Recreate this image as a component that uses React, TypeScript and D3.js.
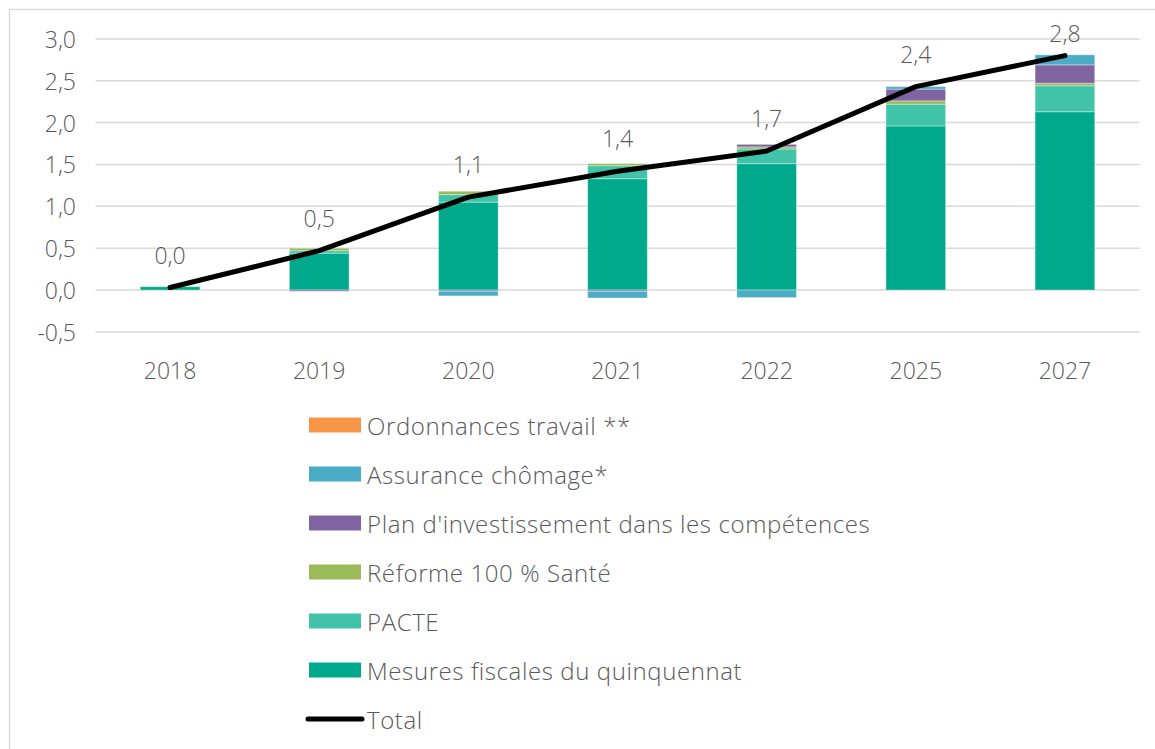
import React from "react";
import * as d3 from "d3";

const years = ["2018", "2019", "2020", "2021", "2022", "2025", "2027"];
const mesuresFiscales = [0.04, 0.44, 1.05, 1.33, 1.51, 1.96, 2.13];
const pacte = [0.0, 0.03, 0.09, 0.155, 0.175, 0.26, 0.31];
const sante = [0.0, 0.03, 0.04, 0.025, 0.025, 0.04, 0.03];
const planInvest = [0.0, -0.015, -0.015, -0.015, 0.03, 0.14, 0.22];
const assuranceChomage = [0.0, 0.0, -0.055, -0.08, -0.09, 0.03, 0.12];
const ordonnances = [0, 0, 0, 0, 0, 0, 0];
const total = [0.03, 0.47, 1.11, 1.42, 1.66, 2.43, 2.8];
const yTicks = [-0.5, 0, 0.5, 1, 1.5, 2, 2.5, 3];

const seriesDefs = [
  { key: "mesures", label: "Mesures fiscales du quinquennat", values: mesuresFiscales, color: "#00A98B" },
  { key: "pacte", label: "PACTE", values: pacte, color: "#41C3A9" },
  { key: "sante", label: "Réforme 100 % Santé", values: sante, color: "#9BBB59" },
  { key: "plan", label: "Plan d'investissement dans les compétences", values: planInvest, color: "#8064A2" },
  { key: "assurance", label: "Assurance chômage*", values: assuranceChomage, color: "#4BACC6" },
  { key: "ordo", label: "Ordonnances travail **", values: ordonnances, color: "#F79646" },
];

const FONT = "'Open Sans', Lato, sans-serif";
const TEXT = "#595959";
const FS = 23;
const LFS = 24;

export default function App() {
  const x = d3.scaleBand<string>().domain(years).range([95.5, 1139.5]).paddingInner(0.6).paddingOuter(0.3);
  const y = d3.scaleLinear().domain([-0.5, 3]).range([331.9, 38.9]);

  const rows = years.map((yr, i) => {
    const r: any = { year: yr };
    seriesDefs.forEach((s) => (r[s.key] = s.values[i]));
    return r;
  });
  const stack = d3
    .stack<any>()
    .keys(seriesDefs.map((s) => s.key))
    .offset(d3.stackOffsetDiverging);
  const stacked = stack(rows);

  const line = d3
    .line<number>()
    .x((_, i) => (x(years[i]) as number) + x.bandwidth() / 2)
    .y((d) => y(d));

  const fmt = (v: number) => v.toFixed(1).replace(".", ",");
  const legendItems = [...seriesDefs].reverse();

  return (
    <svg width={1155} height={749} style={{ position: "absolute", left: 0, top: 0 }} fontFamily={FONT} fontWeight={300}>
      <rect x={0} y={0} width={1155} height={749} fill="#fff" />
      <rect x={9.5} y={9.5} width={1160} height={760} fill="none" stroke="#d9d9d9" strokeWidth={1.5} />
      {yTicks.map((t) => (
        <g key={t}>
          <line x1={95.5} x2={1139.5} y1={y(t)} y2={y(t)} stroke="#d9d9d9" strokeWidth={1.5} />
          <text x={76} y={y(t)} textAnchor="end" dominantBaseline="central" fontSize={FS} fill={TEXT}>
            {fmt(t)}
          </text>
        </g>
      ))}
      {years.map((yr) => (
        <text
          key={yr}
          x={(x(yr) as number) + x.bandwidth() / 2}
          y={370}
          textAnchor="middle"
          dominantBaseline="central"
          fontSize={FS}
          fill={TEXT}
        >
          {yr}
        </text>
      ))}
      {stacked.map((layer, li) => (
        <g key={layer.key} fill={seriesDefs[li].color}>
          {layer.map((d, i) =>
            Math.abs(d[1] - d[0]) > 1e-9 ? (
              <rect
                key={i}
                x={x(years[i])}
                width={x.bandwidth()}
                y={y(Math.max(d[0], d[1]))}
                height={Math.abs(y(d[0]) - y(d[1]))}
                stroke="#ffffff"
                strokeOpacity={0.35}
                strokeWidth={1}
              />
            ) : null
          )}
        </g>
      ))}
      <path d={line(total) || ""} fill="none" stroke="#000" strokeWidth={5} strokeLinejoin="round" strokeLinecap="round" />
      {total.map((v, i) => (
        <text
          key={i}
          x={(x(years[i]) as number) + x.bandwidth() / 2}
          y={Math.max(y(v) - 33, 33)}
          textAnchor="middle"
          dominantBaseline="central"
          fontSize={FS}
          fill={TEXT}
        >
          {fmt(v)}
        </text>
      ))}
      {legendItems.map((s, i) => (
        <g key={s.key} transform={`translate(0, ${425 + i * 49})`}>
          <rect x={309} y={-7.5} width={52} height={15} fill={s.color} />
          <text x={367} y={0} dominantBaseline="central" fontSize={LFS} letterSpacing={0.6} fill={TEXT}>
            {s.label}
          </text>
        </g>
      ))}
      <g transform={`translate(0, ${425 + 6 * 49})`}>
        <line x1={308} x2={362} y1={0} y2={0} stroke="#000" strokeWidth={5} strokeLinecap="round" />
        <text x={367} y={0} dominantBaseline="central" fontSize={LFS} letterSpacing={0.6} fill={TEXT}>
          Total
        </text>
      </g>
    </svg>
  );
}
